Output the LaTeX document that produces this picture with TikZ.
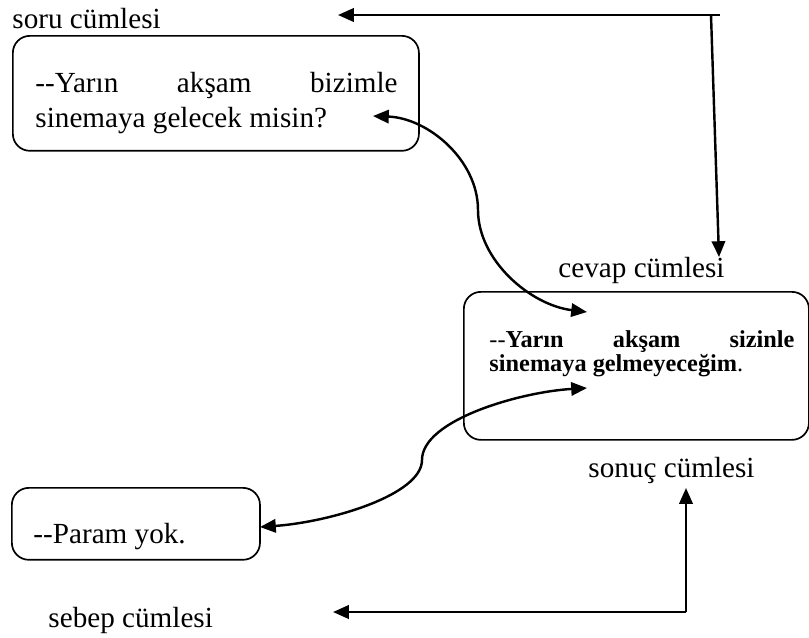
\documentclass[tikz,border=0pt]{standalone}
\usepackage{fontspec}
\setmainfont{Liberation Serif}
\usepackage{xcolor}
\usepackage{tikz}
\usetikzlibrary{arrows.meta}
\definecolor{cumInk}{HTML}{000000}
\newcommand{\twohyph}{-\kern0pt-}
\newcommand{\nohyph}{\hyphenpenalty=10000 \exhyphenpenalty=10000 \hbadness=10000 \lineskiplimit=-10pt }
\tikzset{
  cumbox/.style={rectangle,rounded corners=7pt,draw=cumInk,line width=0.7pt,
    anchor=north west,inner sep=0pt},
  cumtext/.style={anchor=base west,inner sep=0pt,align=justify,
    font=\fontsize{12}{14.8}\selectfont\nohyph},
  cumlabel/.style={anchor=base west,inner sep=0pt,font=\fontsize{12}{14.8}\selectfont},
  arrow/.style={-{Triangle[length=6.5pt,width=5.5pt]},line width=1pt,draw=cumInk},
  dblarrow/.style={{Triangle[length=6.5pt,width=5.5pt]}-{Triangle[length=6.5pt,width=5.5pt]},
    line width=1pt,draw=cumInk}
}

\begin{document}
\begin{tikzpicture}[x=0.4115pt,y=-0.4115pt]
\useasboundingbox (0,0) rectangle (809,637);

\node[cumlabel] (soru) at (12,28) {soru cümlesi};
\node[cumlabel] (cevap) at (558,277) {cevap cümlesi};
\node[cumlabel] (sonuc) at (588,477) {sonuç cümlesi};
\node[cumlabel] (sebep) at (48,627) {sebep cümlesi};

\node[cumbox, minimum width=167.1pt, minimum height=47.3pt] (sorubox) at (12,35) {};
\node[cumbox, minimum width=142pt, minimum height=60.9pt] (cevapbox) at (463,291) {};
\node[cumbox, minimum width=102.1pt, minimum height=29.6pt] (sebepbox) at (11,487) {};

\node[cumtext, text width=149pt] (sorutext) at (35,92)
  {\twohyph Yarın akşam bizimle sinemaya gelecek misin?};
\node[cumtext, text width=125.5pt, font=\fontsize{10}{10}\selectfont\nohyph] (cevaptext) at (489,347)
  {\twohyph\textbf{Yarın akşam sizinle sinemaya gelmeyeceğim}.};
\node[cumtext] (sebeptext) at (33,543) {\twohyph Param yok.};

\coordinate (topright) at (720,15);
\coordinate (topdrop) at (711,15);
\coordinate (soruend) at (338,15);
\coordinate (cevapend) at (719,257);
\coordinate (botcorner) at (686,612);
\coordinate (sonucend) at (686,488);
\coordinate (sebepend) at (333,612);
\coordinate (qpoint) at (373,116);
\coordinate (apoint) at (587,312);
\coordinate (bpoint) at (587,388);
\coordinate (rpoint) at (260,527);

\draw[arrow] (topright) -- (soruend);
\draw[arrow] (topdrop) -- (cevapend);
\draw[arrow] (botcorner) -- (sonucend);
\draw[arrow] (botcorner) -- (sebepend);
\draw[dblarrow] (qpoint) .. controls (428,118) and (478,160) .. (478,210)
  .. controls (478,260) and (530,305) .. (apoint);
\draw[dblarrow] (bpoint) .. controls (520,392) and (422,420) .. (422,460)
  .. controls (422,495) and (330,522) .. (rpoint);
\end{tikzpicture}
\end{document}
